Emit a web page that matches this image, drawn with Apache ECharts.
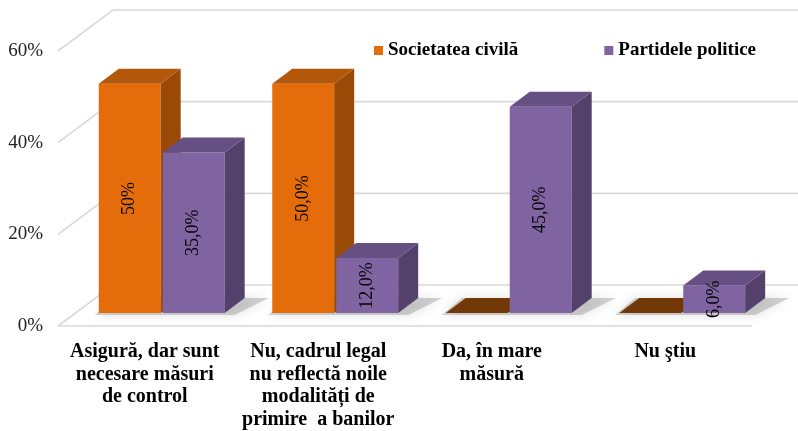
<!DOCTYPE html>
<html>
<head>
<meta charset="utf-8">
<script src="https://cdn.jsdelivr.net/npm/echarts@6/dist/echarts.min.js"></script>
<style>
  html, body { margin: 0; padding: 0; background: #fff; }
  #chart { width: 798px; height: 431px; }
</style>
</head>
<body>
<div id="chart"></div>
<script>
// data
var categories = [
    'Asigură, dar sunt\nnecesare măsuri\nde control',
    'Nu, cadrul legal\nnu reflectă noile\nmodalități de\nprimire  a banilor',
    'Da, în mare\nmăsură',
    'Nu ştiu'
];
var civilSociety = [50, 50, 0, 0];
var politicalParties = [35, 12, 45, 6];
var civilLabels = ['50%', '50,0%', '', ''];
var partyLabels = ['35,0%', '12,0%', '45,0%', '6,0%'];
var yTicks = [0, 20, 40, 60];
var seriesNames = ['Societatea civilă', 'Partidele politice'];

// 3d look
var WALL_DX = 55, WALL_DY = -41;   // depth of the back wall
var BAR_DX = 17, BAR_DY = -13;     // where the bars stand
var DEPTH_DX = 20, DEPTH_DY = -15; // depth of one bar

var orange = { front: '#E46C0A', side: '#9A4A06', top: '#B3570B', flat: '#733808' };
var purple = { front: '#8064A2', side: '#53416B', top: '#654F83', flat: '#4b3a62' };

function wallItem(params, api) {
    var cs = params.coordSys;
    var y = api.coord([0, api.value(0)])[1];
    var children = [{
        type: 'polyline',
        shape: { points: [[cs.x, y], [cs.x + WALL_DX, y + WALL_DY], [cs.x + cs.width + WALL_DX + 60, y + WALL_DY]] },
        style: { stroke: '#d9d9d9', lineWidth: 1.6, fill: null }
    }];
    if (api.value(0) === 0) {
        children.push({
            type: 'line',
            shape: { x1: cs.x, y1: y, x2: cs.x + cs.width, y2: y },
            style: { stroke: '#d9d9d9', lineWidth: 1.6 }
        });
    }
    return { type: 'group', children: children };
}

function shadowItem(params, api) {
    var base = api.coord([api.value(0), 0]);
    var x0 = base[0] - 46 - 4;
    var x1 = base[0] + 80 + 10;
    var y = base[1] + BAR_DY;
    return {
        type: 'polygon',
        shape: { points: [[x0, y + 2], [x1, y + 2], [x1 + DEPTH_DX + 14, y + DEPTH_DY], [x0 + DEPTH_DX, y + DEPTH_DY]] },
        style: { fill: 'rgba(110,110,110,0.3)', shadowBlur: 12, shadowColor: 'rgba(0,0,0,0.4)' },
        silent: true
    };
}

function barRenderer(offset, colors, labels) {
    return function (params, api) {
        var cat = api.value(0), v = api.value(1);
        var base = api.coord([cat, 0]);
        var top = api.coord([cat, v]);
        var w = api.size([1, 0])[0] * 0.357;
        var x0 = base[0] + BAR_DX + offset;
        var x1 = x0 + w;
        var yb = base[1] + BAR_DY;
        var yt = top[1] + BAR_DY;
        var children = [
            {
                type: 'rect',
                shape: { x: x0, y: yt, width: w, height: yb - yt },
                style: { fill: colors.front }
            },
            {
                type: 'polygon',
                shape: { points: [[x1, yt], [x1 + DEPTH_DX, yt + DEPTH_DY], [x1 + DEPTH_DX, yb + DEPTH_DY], [x1, yb]] },
                style: { fill: colors.side }
            },
            {
                type: 'polygon',
                shape: { points: [[x0, yt], [x0 + DEPTH_DX, yt + DEPTH_DY], [x1 + DEPTH_DX, yt + DEPTH_DY], [x1, yt]] },
                style: { fill: v === 0 ? colors.flat : colors.top }
            }
        ];
        var txt = labels[params.dataIndex];
        if (txt) {
            children.push({
                type: 'text',
                x: (x0 + x1) / 2,
                y: (yt + yb) / 2,
                rotation: Math.PI / 2,
                style: {
                    text: txt,
                    x: 0, y: 0,
                    align: 'center',
                    verticalAlign: 'middle',
                    fill: '#000',
                    font: '18px "Liberation Serif"'
                }
            });
        }
        return { type: 'group', children: children };
    };
}

function pairs(values) {
    return values.map(function (v, i) { return [i, v]; });
}

var chart = echarts.init(document.getElementById('chart'));
var option = {
    animation: false,
    grid: { left: 58, right: 46, top: 51, bottom: 105 },
    legend: {
        data: [
            { name: seriesNames[0], icon: 'rect', itemStyle: { color: orange.front } },
            { name: seriesNames[1], icon: 'rect', itemStyle: { color: purple.front } }
        ],
        left: 369,
        top: 36,
        itemWidth: 9,
        itemHeight: 9,
        itemGap: 86,
        textStyle: { fontFamily: 'Liberation Serif', fontWeight: 'bold', fontSize: 19, color: '#000' }
    },
    xAxis: {
        type: 'category',
        data: categories,
        axisLine: { show: false },
        axisTick: { show: false },
        axisLabel: {
            interval: 0,
            margin: 15,
            fontFamily: 'Liberation Serif',
            fontWeight: 'bold',
            fontSize: 20,
            lineHeight: 22.5,
            color: '#000'
        }
    },
    yAxis: {
        type: 'value',
        min: 0,
        max: 60,
        interval: 20,
        axisLine: { show: false },
        axisTick: { show: false },
        splitLine: { show: false },
        axisLabel: {
            formatter: '{value}%',
            margin: 15,
            fontFamily: 'Liberation Serif',
            fontSize: 19,
            color: '#222'
        }
    },
    series: [
        {
            type: 'custom',
            name: 'walls',
            silent: true,
            z: 1,
            renderItem: wallItem,
            data: yTicks.map(function (t) { return [t]; })
        },
        {
            type: 'custom',
            name: 'shadows',
            silent: true,
            z: 2,
            renderItem: shadowItem,
            data: pairs(civilSociety)
        },
        {
            type: 'custom',
            name: seriesNames[0],
            z: 3,
            itemStyle: { color: orange.front },
            renderItem: barRenderer(-63, orange, civilLabels),
            data: pairs(civilSociety)
        },
        {
            type: 'custom',
            name: seriesNames[1],
            z: 4,
            itemStyle: { color: purple.front },
            renderItem: barRenderer(1, purple, partyLabels),
            data: pairs(politicalParties)
        }
    ]
};
chart.setOption(option);
</script>
</body>
</html>
